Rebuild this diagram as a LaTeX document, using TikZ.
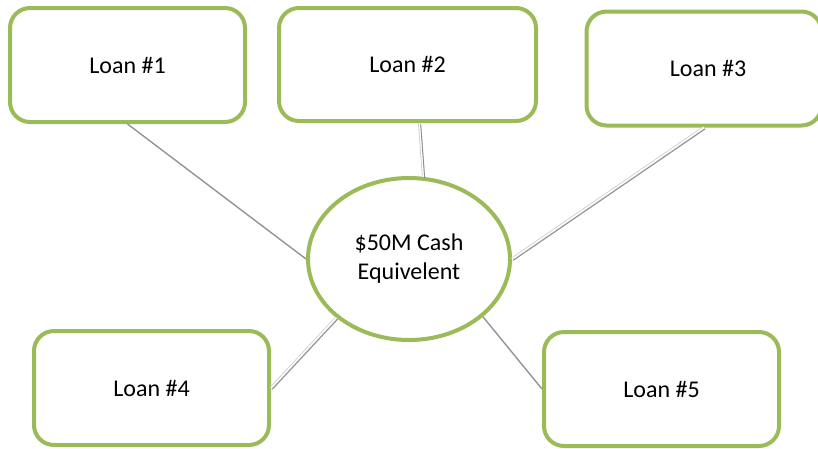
\documentclass[tikz,border=0pt]{standalone}
\usepackage{fontspec}
\setmainfont{Carlito}
\usepackage{xcolor}
\usetikzlibrary{shapes.geometric}
\definecolor{loangreen}{HTML}{9BBB59}

\begin{document}
\begin{tikzpicture}[x=1pt, y=-1pt,
        loanbox/.style={draw=loangreen, line width=4pt, rounded corners=20pt, fill=white,
            minimum width=235pt, minimum height=114pt, inner sep=0pt,
            font=\fontsize{24}{29}\selectfont},
        cashbox/.style={draw=loangreen, line width=4pt, ellipse, fill=white,
            minimum width=202pt, minimum height=162pt, inner sep=0pt, align=center,
            font=\fontsize{24}{29}\selectfont},
        link/.style={draw=gray!85, line width=1.4pt},
        widelink/.style={draw=gray!40, line width=0.8pt, double=white, double distance=1.4pt,
            postaction={draw=gray!90, line width=0.9pt, transform canvas={shift={(1.2pt,-1.4pt)}}}}]
        \useasboundingbox (0,0) rectangle (818,448);

        \node[cashbox] (cash) at (409,259) {\$50M Cash\\Equivelent};
        \node[loanbox] (loan1) at (127.5,65) {Loan \#1};
        \node[loanbox, minimum width=257pt, minimum height=113pt] (loan2) at (407.5,64.5) {Loan \#2};
        \node[loanbox] (loan3) at (704,68.5) {\hspace*{8pt}Loan \#3};
        \node[loanbox] (loan4) at (151.5,388) {Loan \#4};
        \node[loanbox] (loan5) at (661.5,389) {Loan \#5};

        % spokes from the loans to the cash node
        \draw[link] (loan1.south) -- (cash.west);
        \draw[widelink] ([xshift=12pt]loan2.south) -- (cash.80);
        \draw[widelink] (loan3.south) -- (cash.east);
        \draw[widelink] (loan4.east) -- (cash.219);
        \draw[link] (cash.-38) -- (loan5.west);
    \end{tikzpicture}
\end{document}
